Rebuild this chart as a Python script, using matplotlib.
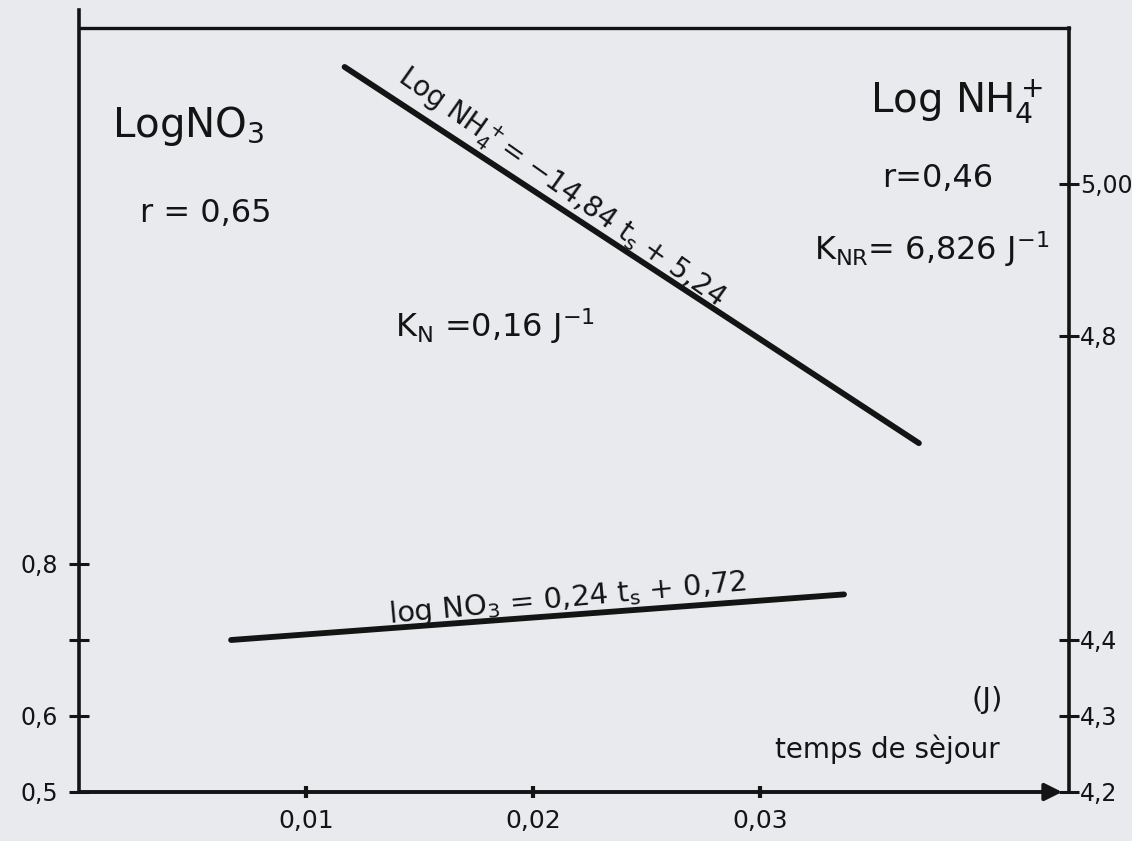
import numpy as np
import matplotlib
matplotlib.use("Agg")
import matplotlib.pyplot as plt
from matplotlib import transforms

# temps de sejour (J) et droites de regression
ts_no3 = [0.0067, 0.0337]
log_no3 = [0.700, 0.760]
ts_nh4 = [0.0117, 0.0370]
log_nh4 = [5.154, 4.659]

xticks = [0.01, 0.02, 0.03]
xlabels = ['0,01', '0,02', '0,03']
no3_ticks = [0.5, 0.6, 0.7, 0.8]
no3_labels = ['0,5', '0,6', '', '0,8']
nh4_ticks = [4.2, 4.3, 4.4, 4.8, 5.0]
nh4_labels = ['4,2', '4,3', '4,4', '4,8', '5,00']

paper = '#e9eaee'
ink = '#141414'
plt.rcParams['font.family'] = ['DejaVu Sans']
plt.rcParams['mathtext.fontset'] = 'dejavusans'

fig = plt.figure(figsize=(11.32, 8.41), dpi=100, facecolor=paper)
ax = fig.add_axes([79 / 1132, 49 / 841, 990 / 1132, 782 / 841])
ax.set_facecolor(paper)
ax2 = ax.twinx()

xmax = 990 / 22700
ax.set_xlim(0, xmax)
ax.set_ylim(0.5, 0.5 + 782 / 760)
ax2.set_ylim(4.2, 4.2 + 782 / 760)
top_frame = 0.5 + 764 / 760

for a in (ax, ax2):
    for s in a.spines.values():
        s.set_visible(False)
ax.spines['left'].set_visible(True)
ax.spines['left'].set_linewidth(2.6)
ax.spines['left'].set_color(ink)
ax2.spines['right'].set_visible(True)
ax2.spines['right'].set_linewidth(2.6)
ax2.spines['right'].set_color(ink)
ax2.spines['right'].set_bounds(4.2, top_frame + 3.7)

# cadre du haut et axe des temps avec fleche
ax.plot([0, xmax], [top_frame, top_frame], color=ink, lw=2.4, clip_on=False)
ax.annotate('', xy=(0.993, 0), xytext=(0, 0), xycoords='axes fraction',
            arrowprops=dict(arrowstyle='-|>', color=ink, lw=2.8,
                            mutation_scale=26, shrinkA=0, shrinkB=0))

ax.set_xticks(xticks, labels=xlabels)
ax.set_yticks(no3_ticks, labels=no3_labels)
ax2.set_yticks(nh4_ticks, labels=nh4_labels)
ax.tick_params(axis='x', direction='inout', length=8, width=3, color=ink,
               labelsize=18, pad=8, labelcolor=ink)
ax.tick_params(axis='y', direction='inout', length=14, width=2.2, color=ink,
               labelsize=17, pad=8, labelcolor=ink)
ax2.tick_params(axis='y', direction='inout', length=14, width=2.2, color=ink,
                labelsize=17, pad=1, labelcolor=ink)

# droites
ax.plot(ts_no3, log_no3, color=ink, lw=4.2, solid_capstyle='round')
ax2.plot(ts_nh4, log_nh4, color=ink, lw=4.2, solid_capstyle='round')


def angle_of(a, xs, ys):
    p = a.transData.transform(np.column_stack([xs, ys]))
    d = p[1] - p[0]
    return np.degrees(np.arctan2(d[1], d[0]))


def label_line(a, xs, ys, x, text, offset, size, extra=0.0):
    ang = angle_of(a, xs, ys) + extra
    y = np.interp(x, xs, ys) if xs[0] < xs[1] else np.interp(x, xs[::-1], ys[::-1])
    th = np.radians(ang)
    tr = transforms.offset_copy(a.transData, fig=fig,
                                x=-np.sin(th) * offset, y=np.cos(th) * offset,
                                units='points')
    a.text(x, y, text, rotation=ang, rotation_mode='anchor', ha='center',
           va='baseline', fontsize=size, color=ink, transform=tr)


label_line(ax2, ts_nh4, log_nh4, 0.0208,
           r'Log NH$_4^+$= $-$14,84 t$_\mathrm{s}$ + 5,24', 7, 20, extra=-2)
label_line(ax, ts_no3, log_no3, 0.0216,
           r'log NO$_3$ = 0,24 t$_\mathrm{s}$ + 0,72', 6, 21, extra=1)

# annotations
ax.text(0.00145, 1.362, r'LogNO$_3$', fontsize=29, color=ink, va='baseline')
ax.text(0.0027, 1.250, 'r = 0,65', fontsize=23, color=ink, va='baseline')
ax.text(0.0139, 1.099, r'K$_\mathrm{N}$ =0,16 J$^{-1}$', fontsize=23,
        color=ink, va='baseline')
ax.text(0.04247, 1.393, r'Log NH$_4^+$', fontsize=29, color=ink,
        va='baseline', ha='right')
ax.text(0.0354, 1.296, 'r=0,46', fontsize=23, color=ink, va='baseline')
ax.text(0.0324, 1.200, r'K$_\mathrm{NR}$= 6,826 J$^{-1}$', fontsize=23,
        color=ink, va='baseline')
ax.text(0.0400, 0.621, '(J)', fontsize=21, color=ink, ha='center', va='center')
ax.text(0.0356, 0.5447, 'temps de sèjour', fontsize=20, color=ink,
        ha='center', va='baseline')

fig.savefig('out.png', dpi=100, facecolor=paper)
